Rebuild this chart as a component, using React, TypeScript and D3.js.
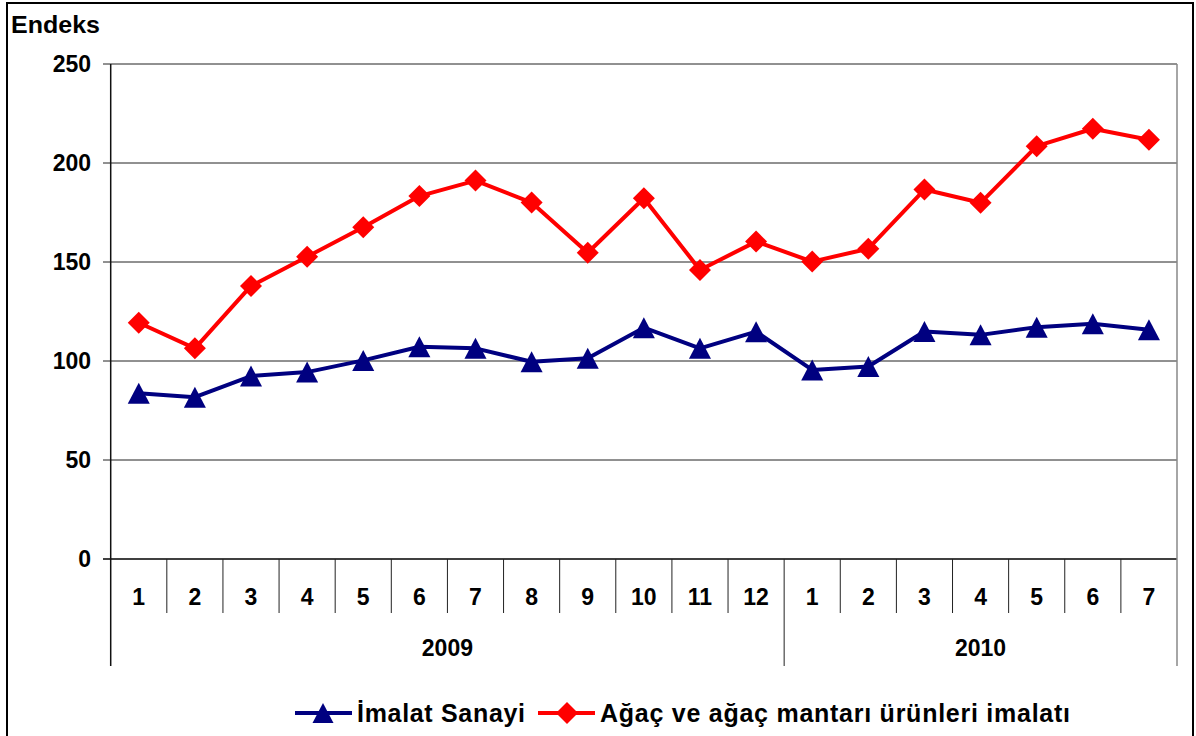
import React from "react";
import { scaleBand, scaleLinear, line } from "d3";

// month labels along the x axis (2009: 1-12, 2010: 1-7)
const months = ["1", "2", "3", "4", "5", "6", "7", "8", "9", "10", "11", "12", "1", "2", "3", "4", "5", "6", "7"];
const years = ["2009", "2010"];
const yearLengths = [12, 7];
const yTicks = [0, 50, 100, 150, 200, 250];

const imalatSanayi = [83.7, 81.7, 92.4, 94.4, 100.3, 107.2, 106.4, 99.6, 101.4, 116.8, 106.4, 114.8, 95.5, 97.2, 114.9, 113.2, 117.1, 118.8, 115.8];
const agacUrunleri = [119.3, 106.4, 137.9, 152.7, 167.5, 183.3, 191.1, 180.0, 154.7, 182.2, 146.0, 160.3, 150.2, 156.7, 186.6, 179.9, 208.5, 217.3, 211.7];

const seriesNames = ["İmalat Sanayi", "Ağaç ve ağaç mantarı ürünleri imalatı"];

const W = 1196;
const H = 736;
const left = 110.7;
const right = 1177;
const top = 64;
const bottom = 559;

const font = "'Liberation Sans', Arial, sans-serif";

function Triangle({ x, y, size, fill }) {
    const h = size;
    const w = size * 1.05;
    return <path d={`M${x},${y - h / 2} L${x + w / 2},${y + h / 2} L${x - w / 2},${y + h / 2} Z`} fill={fill} />;
}

function Diamond({ x, y, size, fill }) {
    const r = size / 2;
    return <path d={`M${x},${y - r} L${x + r},${y} L${x},${y + r} L${x - r},${y} Z`} fill={fill} />;
}

export default function App() {
    const idx = months.map((_, i) => i);
    const xScale = scaleBand().domain(idx).range([left, right]).padding(0);
    const yScale = scaleLinear().domain([0, 250]).range([bottom, top]);
    const bw = xScale.bandwidth();
    const cx = (i) => xScale(i) + bw / 2;

    const pathGen = line().x((d, i) => cx(i)).y(d => yScale(d));

    // boundaries where a year starts/ends
    const yearBounds = [0];
    yearLengths.forEach(n => yearBounds.push(yearBounds[yearBounds.length - 1] + n));

    return (
        <svg width={W} height={H} style={{ position: "absolute", left: 0, top: 0, display: "block" }}
             fontFamily={font} fontWeight="bold">
            <rect x={0} y={0} width={W} height={H} fill="#fff" />
            {/* outer chart border */}
            <rect x={7} y={3} width={1186} height={H + 10} fill="none" stroke="#000" strokeWidth={2} />

            <text x={11} y={33} fontSize={24} fill="#000" textLength={89} lengthAdjust="spacingAndGlyphs">Endeks</text>

            {/* gridlines + y ticks */}
            {yTicks.map(t => (
                <g key={t}>
                    <line x1={103} x2={right} y1={yScale(t)} y2={yScale(t)} stroke={t === 0 ? "#000" : "#222"} strokeWidth={t === 0 ? 1.5 : 1} />
                    <text x={91} y={yScale(t)} dy="0.36em" textAnchor="end" fontSize={23} fill="#000">{t}</text>
                </g>
            ))}

            {/* left axis, right plot border */}
            <line x1={left} x2={left} y1={top} y2={666} stroke="#111" strokeWidth={1.5} />
            <line x1={right} x2={right} y1={top} y2={666} stroke="#888" strokeWidth={1.5} />

            {/* month separators */}
            {idx.slice(1).map(i => {
                const isYear = yearBounds.includes(i);
                return <line key={i} x1={xScale(i)} x2={xScale(i)} y1={bottom} y2={isYear ? 666 : 613} stroke="#222" strokeWidth={1} />;
            })}

            {months.map((m, i) => (
                <text key={i} x={cx(i)} y={597} dy="0.36em" textAnchor="middle" fontSize={23} fill="#000">{m}</text>
            ))}

            {years.map((yr, k) => {
                const x0 = xScale(yearBounds[k]);
                const x1 = yearBounds[k + 1] >= months.length ? right : xScale(yearBounds[k + 1]);
                return <text key={yr} x={(x0 + x1) / 2} y={648} dy="0.36em" textAnchor="middle" fontSize={23} fill="#000">{yr}</text>;
            })}

            {/* series */}
            <path d={pathGen(imalatSanayi)} fill="none" stroke="#000080" strokeWidth={4} strokeLinejoin="round" />
            {imalatSanayi.map((v, i) => <Triangle key={i} x={cx(i)} y={yScale(v)} size={21} fill="#000080" />)}

            <path d={pathGen(agacUrunleri)} fill="none" stroke="#ff0000" strokeWidth={4} strokeLinejoin="round" />
            {agacUrunleri.map((v, i) => <Diamond key={i} x={cx(i)} y={yScale(v)} size={22} fill="#ff0000" />)}

            {/* legend */}
            <g>
                <line x1={295} x2={352} y1={713} y2={713} stroke="#000080" strokeWidth={4} />
                <Triangle x={323} y={713} size={20} fill="#000080" />
                <text x={357} y={713} dy="0.36em" fontSize={25} fill="#000" textLength={168} lengthAdjust="spacing">{seriesNames[0]}</text>

                <line x1={538} x2={595} y1={713} y2={713} stroke="#ff0000" strokeWidth={4} />
                <Diamond x={567} y={713} size={22} fill="#ff0000" />
                <text x={600} y={713} dy="0.36em" fontSize={25} fill="#000" textLength={470} lengthAdjust="spacing">{seriesNames[1]}</text>
            </g>
        </svg>
    );
}
